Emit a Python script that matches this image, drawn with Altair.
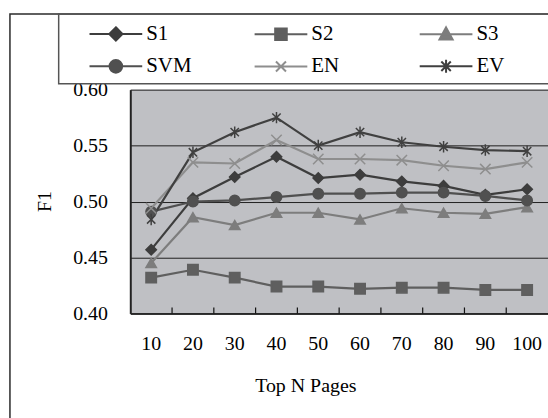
import altair as alt
import pandas as pd

# ---- data ----
pages = [10, 20, 30, 40, 50, 60, 70, 80, 90, 100]
S1 = [0.457, 0.503, 0.522, 0.540, 0.521, 0.524, 0.518, 0.514, 0.506, 0.511]
S2 = [0.432, 0.439, 0.432, 0.424, 0.424, 0.422, 0.423, 0.423, 0.421, 0.421]
S3 = [0.445, 0.486, 0.479, 0.490, 0.490, 0.484, 0.494, 0.490, 0.489, 0.495]
SVM = [0.491, 0.500, 0.501, 0.504, 0.507, 0.507, 0.508, 0.508, 0.505, 0.501]
EN = [0.494, 0.535, 0.534, 0.555, 0.538, 0.538, 0.537, 0.532, 0.529, 0.535]
EV = [0.484, 0.544, 0.562, 0.575, 0.550, 0.562, 0.553, 0.549, 0.546, 0.545]

series_names = ["S1", "S2", "S3", "SVM", "EN", "EV"]
series_values = [S1, S2, S3, SVM, EN, EV]
y_ticks = [0.40, 0.45, 0.50, 0.55, 0.60]

# ---- styles ----
colors = ["#3d3d3d", "#5f5f5f", "#7d7d7d", "#505050", "#8e8e8e", "#404040"]
CROSS = "M-1,-1L1,1M-1,1L1,-1"
STAR = "M-0.8,-0.8L0.8,0.8M-0.8,0.8L0.8,-0.8M0,-1.1L0,1.1"
marker_shapes = ["diamond", "square", "triangle-up", "circle", CROSS, STAR]
legend_shapes = [
    "M-1,0L1,0M0,-0.25L0.25,0L0,0.25L-0.25,0Z",
    "M-1,0L1,0M-0.22,-0.22L0.22,-0.22L0.22,0.22L-0.22,0.22Z",
    "M-1,0L1,0M0,-0.26L0.25,0.2L-0.25,0.2Z",
    "M-1,0L1,0M0.24,0A0.24,0.24 0 1,1 -0.24,0A0.24,0.24 0 1,1 0.24,0Z",
    "M-1,0L1,0M-0.19,-0.19L0.19,0.19M-0.19,0.19L0.19,-0.19",
    "M-1,0L1,0M-0.18,-0.18L0.18,0.18M-0.18,0.18L0.18,-0.18M0,-0.25L0,0.25",
]
FONT = "Liberation Serif"

rows = []
for name, vals in zip(series_names, series_values):
    for p, v in zip(pages, vals):
        rows.append({"series": name, "page": p, "f1": v})
df = pd.DataFrame(rows)
tick_df = pd.DataFrame({"page": pages[1:]})

W, H = 420, 225

x_scale = alt.Scale(type="band", domain=pages, paddingInner=0, paddingOuter=0)
y_scale = alt.Scale(domain=[0.40, 0.60], nice=False, zero=False)

x_enc = alt.X(
    "page:O",
    scale=x_scale,
    axis=alt.Axis(
        title="Top N Pages",
        labelAngle=0,
        labelFont=FONT,
        labelFontSize=20,
        labelColor="#000000",
        labelPadding=20,
        ticks=False,
        domainColor="#111111",
        domainWidth=1.5,
        titleFont=FONT,
        titleFontSize=20,
        titleFontWeight="normal",
        titleColor="#000000",
        titleX=176,
        titleY=73,
        titleBaseline="middle",
        grid=False,
    ),
)
y_enc = alt.Y(
    "f1:Q",
    scale=y_scale,
    axis=alt.Axis(
        title="F1",
        values=y_ticks,
        format=".2f",
        labelFont=FONT,
        labelFontSize=20,
        labelColor="#000000",
        labelPadding=23,
        ticks=False,
        grid=True,
        gridColor="#1e1e1e",
        gridWidth=1,
        domainColor="#222222",
        domainWidth=2,
        titleFont=FONT,
        titleFontSize=20,
        titleFontWeight="normal",
        titleColor="#000000",
        titleX=-86,
        titleY=112,
        titleBaseline="middle",
    ),
)

color_scale = alt.Scale(domain=series_names, range=colors)

lines = alt.Chart(df).mark_line(strokeWidth=2.2).encode(
    x=x_enc,
    y=y_enc,
    stroke=alt.Stroke("series:N", scale=color_scale, legend=None),
    detail="series:N",
)

points = alt.Chart(df).mark_point(filled=True, size=110, strokeWidth=1.5, opacity=1).encode(
    x=alt.X("page:O", scale=x_scale),
    y=alt.Y("f1:Q", scale=y_scale),
    fill=alt.Fill("series:N", scale=color_scale, legend=None),
    stroke=alt.Stroke("series:N", scale=color_scale, legend=None),
    shape=alt.Shape("series:N", scale=alt.Scale(domain=series_names, range=marker_shapes), legend=None),
)


def legend_row(names, cols, shapes, legend_y, col_pad):
    leg = dict(
        title=None,
        orient="none",
        legendX=-42,
        legendY=legend_y,
        direction="horizontal",
        columns=3,
        columnPadding=col_pad,
        gridAlign="all",
        labelFont=FONT,
        labelFontSize=21,
        labelColor="#000000",
        labelOffset=3,
        symbolSize=2809,
        symbolStrokeWidth=2,
        symbolOpacity=1,
        padding=0,
    )
    sub = df[df["series"].isin(names)]
    return alt.Chart(sub).mark_point(filled=True, opacity=0, size=1).encode(
        x=alt.X("page:O", scale=x_scale),
        y=alt.Y("f1:Q", scale=y_scale),
        fill=alt.Fill("series:N", scale=alt.Scale(domain=names, range=cols), legend=alt.Legend(**leg)),
        stroke=alt.Stroke("series:N", scale=alt.Scale(domain=names, range=cols), legend=alt.Legend(**leg)),
        shape=alt.Shape("series:N", scale=alt.Scale(domain=names, range=shapes), legend=alt.Legend(**leg)),
    )


legend_row1 = legend_row(series_names[:3], colors[:3], legend_shapes[:3], -84, 82)
legend_row2 = legend_row(series_names[3:], colors[3:], legend_shapes[3:], -51.5, 59)

ticks = alt.Chart(tick_df).mark_rule(color="#111111", strokeWidth=1.2).encode(
    x=alt.X("page:O", scale=x_scale, bandPosition=0),
    y=alt.value(H - 6),
    y2=alt.value(H),
)

one = alt.Data(values=[{"k": 1}])
outer_frame = alt.Chart(one).mark_rect(fill=None, stroke="#2b2b2b", strokeWidth=1.5).encode(
    x=alt.value(-121), x2=alt.value(700), y=alt.value(-76), y2=alt.value(600)
)
legend_box = alt.Chart(one).mark_rect(fill=None, stroke="#555555", strokeWidth=1.5).encode(
    x=alt.value(-72), x2=alt.value(700), y=alt.value(-76), y2=alt.value(-6)
)

chart = (
    alt.layer(outer_frame, legend_box, lines, ticks, points, legend_row1, legend_row2)
    .resolve_scale(shape="independent", fill="independent", stroke="independent")
    .properties(
        width=W,
        height=H,
        autosize=alt.AutoSizeParams(type="none"),
        padding={"left": 131, "top": 89, "right": 0, "bottom": 104},
        background="#ffffff",
    )
    .configure(font=FONT)
    .configure_axis(labelFont=FONT, titleFont=FONT)
    .configure_legend(labelFont=FONT)
    .configure_view(fill="#bfc0c4", stroke=None)
)

chart.save("out.html", embed_options={"renderer": "svg", "actions": False})
